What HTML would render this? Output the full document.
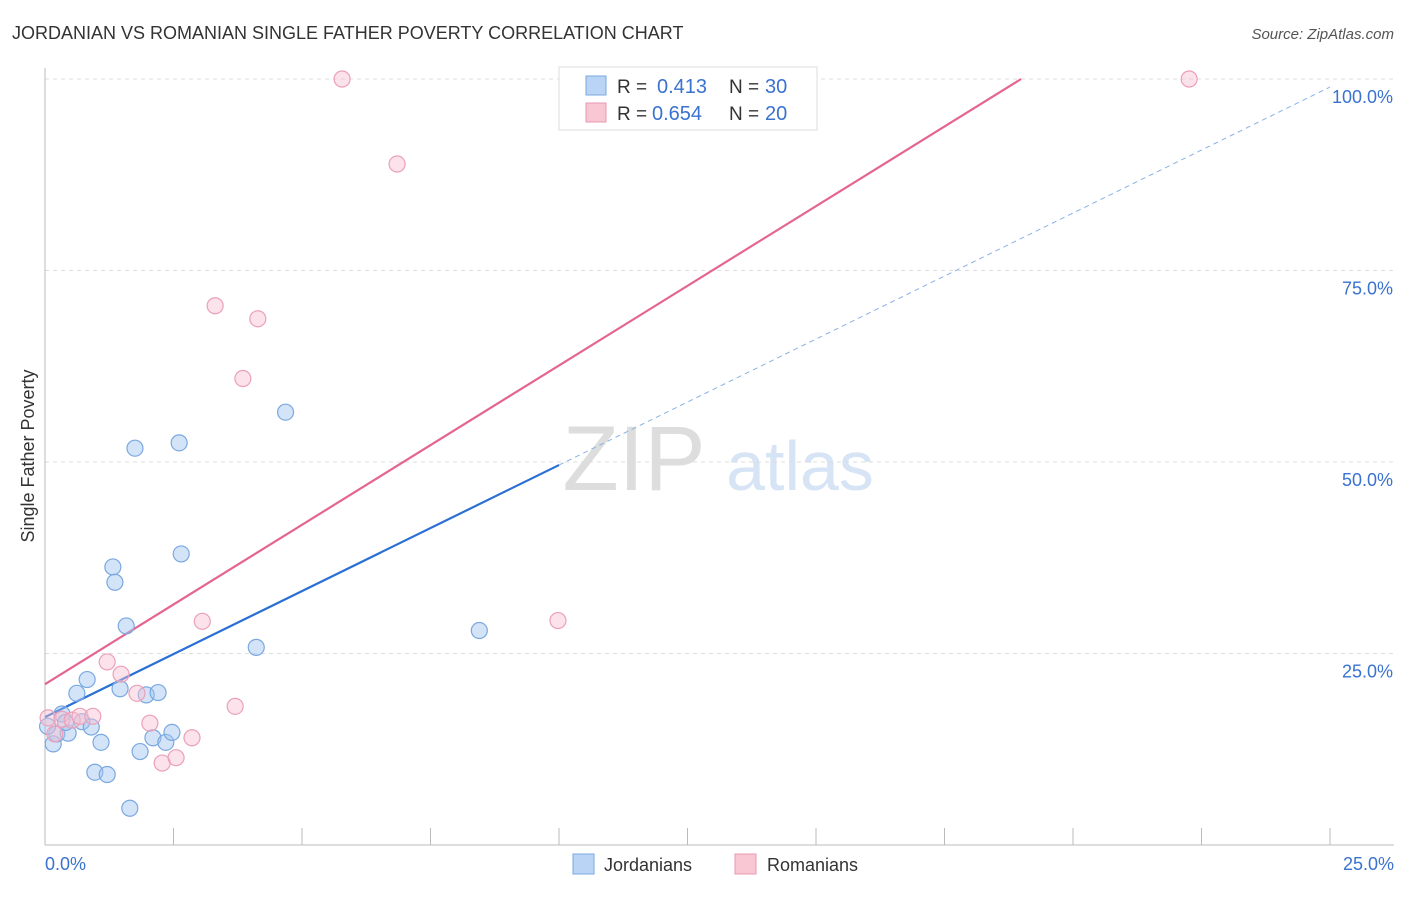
<!DOCTYPE html>
<html><head><meta charset="utf-8"><style>
body{margin:0;background:#fff;font-family:"Liberation Sans",sans-serif;}
svg text{font-family:"Liberation Sans",sans-serif;}
</style></head><body>
<svg id="c" width="1406" height="892">
<text x="12" y="39" font-size="18" fill="#333">JORDANIAN VS ROMANIAN SINGLE FATHER POVERTY CORRELATION CHART</text>
<text x="1394" y="39" font-size="15" fill="#555" font-style="italic" text-anchor="end">Source: ZipAtlas.com</text>
<text x="634" y="490" font-size="92" fill="#ddd" font-family="Liberation Serif" text-anchor="middle">ZIP</text>
<text x="800" y="490" font-size="70" fill="#d6e4f5" text-anchor="middle">atlas</text>
<text x="34" y="456" font-size="18" fill="#333" transform="rotate(-90 34 456)" text-anchor="middle">Single Father Poverty</text>
<g id="grid"></g><g id="lines"></g><g id="pts"></g>
<g>
<rect x="559" y="67" width="258" height="63" fill="#fff" stroke="#ddd"/>
<rect x="586" y="76" width="20" height="19" fill="#b9d4f5" stroke="#7aa8e0"/>
<text x="617" y="93" font-size="19" fill="#333">R = </text><text x="657" y="93" font-size="20" fill="#3a72d0">0.413</text>
<text x="729" y="93" font-size="19" fill="#333">N = </text><text x="765" y="93" font-size="20" fill="#3a72d0">30</text>
<rect x="586" y="103" width="20" height="19" fill="#f9c6d4" stroke="#e89ab2"/>
<text x="617" y="120" font-size="19" fill="#333">R = </text><text x="652" y="120" font-size="20" fill="#3a72d0">0.654</text>
<text x="729" y="120" font-size="19" fill="#333">N = </text><text x="765" y="120" font-size="20" fill="#3a72d0">20</text>
</g>
<g>
<rect x="573" y="854" width="21" height="20" fill="#b9d4f5" stroke="#7aa8e0"/>
<text x="604" y="871" font-size="18" fill="#333">Jordanians</text>
<rect x="735" y="854" width="21" height="20" fill="#f9c6d4" stroke="#e89ab2"/>
<text x="767" y="871" font-size="18" fill="#333">Romanians</text>
</g>
</svg>
<script>
const xTicks=[0,2.5,5,7.5,10,12.5,15,17.5,20,22.5,25];
const yTicks=[25,50,75,100];
const yTickLabels=["25.0%","50.0%","75.0%","100.0%"];
const jordX=[0.16,0.23,0.33,0.45,0.62,0.72,0.82,0.9,0.97,1.09,1.21,1.32,1.36,1.46,1.58,1.65,1.75,1.85,1.97,2.1,2.2,2.35,2.47,2.61,2.65,4.11,4.68,8.45,0.05,0.4];
const jordY=[13.2,14.5,17.1,14.6,19.8,16.1,21.6,15.4,9.5,13.4,9.2,36.3,34.3,20.4,28.6,4.8,51.8,12.2,19.6,14.0,19.9,13.4,14.7,52.5,38.0,25.8,56.5,28.0,15.5,16.0];
const romX=[0.06,0.19,0.33,0.53,0.68,0.93,1.21,1.48,1.79,2.04,2.28,2.55,2.86,3.06,3.31,3.7,3.85,4.14,5.78,6.85,9.98,22.26];
const romY=[16.6,14.5,16.4,16.3,16.8,16.8,23.9,22.3,19.8,15.9,10.7,11.4,14.0,29.2,70.4,18.1,60.9,68.7,100,88.9,29.3,100];
const jordLine=[16.7,3.29]; // intercept, slope
const romLine=[21.0,4.16];
const X=v=>45+v/25*1285, Y=v=>845-v/100*766;
const NS="http://www.w3.org/2000/svg";
function mk(p,t,a){const e=document.createElementNS(NS,t);for(const k in a)e.setAttribute(k,a[k]);document.getElementById(p).appendChild(e);return e;}
yTicks.forEach((t,i)=>{
 let l=mk('grid','line',{x1:45,x2:1394,y1:Y(t),y2:Y(t),stroke:'#ddd','stroke-dasharray':'4,4'});
 
 
 let tx=mk('grid','text',{x:1393,y:Y(t)+24,'font-size':18,fill:'#3a72d0','text-anchor':'end'});tx.textContent=yTickLabels[i];
 
 
});
let ax=mk('grid','line',{x1:45,x2:45,y1:68,y2:845,stroke:'#bbb'});


let bx=mk('grid','line',{x1:45,x2:1394,y1:845,y2:845,stroke:'#bbb'});


xTicks.forEach(t=>{let l=mk('grid','line',{x1:X(t),x2:X(t),y1:828,y2:845,stroke:'#bbb'});
 
 });
let a=mk('grid','text',{x:45,y:870,'font-size':18,fill:'#3a72d0'});a.textContent="0.0%";


let b=mk('grid','text',{x:1394,y:870,'font-size':18,fill:'#3a72d0','text-anchor':'end'});b.textContent="25.0%";


let l1=mk('lines','line',{x1:X(0),y1:Y(jordLine[0]),x2:X(10),y2:Y(jordLine[0]+10*jordLine[1]),stroke:'#2a70d4','stroke-width':2.2});


let l2=mk('lines','line',{x1:X(10),y1:Y(jordLine[0]+10*jordLine[1]),x2:X(25),y2:Y(jordLine[0]+25*jordLine[1]),stroke:'#8ab0e6','stroke-width':1,'stroke-dasharray':'5,4'});


const rx=(100-romLine[0])/romLine[1];
let l3=mk('lines','line',{x1:X(0),y1:Y(romLine[0]),x2:X(rx),y2:Y(100),stroke:'#e4658f','stroke-width':2.2});


jordX.forEach((v,i)=>{let c=mk('pts','circle',{cx:X(v),cy:Y(jordY[i]),r:8,fill:'rgba(160,196,240,0.45)',stroke:'#7aa8e0','stroke-width':1.2});
 
 });
romX.forEach((v,i)=>{let c=mk('pts','circle',{cx:X(v),cy:Y(romY[i]),r:8,fill:'rgba(248,190,208,0.45)',stroke:'#eba0b8','stroke-width':1.2});
 
 });
</script>
</body></html>
